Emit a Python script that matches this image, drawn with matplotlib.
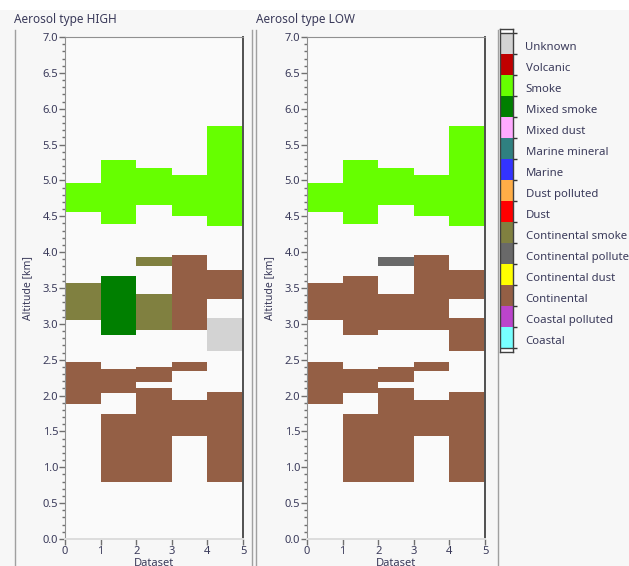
import matplotlib
matplotlib.use("Agg")
import matplotlib.pyplot as plt
from matplotlib.lines import Line2D
from matplotlib.patches import Rectangle
from matplotlib.ticker import MultipleLocator

plt.rcParams['font.family'] = ['Noto Sans', 'DejaVu Sans']

# ---- categories (top to bottom in the legend) ----
categories = ["Unknown", "Volcanic", "Smoke", "Mixed smoke", "Mixed dust",
              "Marine mineral", "Marine", "Dust polluted", "Dust",
              "Continental smoke", "Continental polluted", "Continental dust",
              "Continental", "Coastal polluted", "Coastal"]
cat_colors = ["#d3d3d3", "#c00000", "#66ff00", "#007f00", "#ffaaff",
              "#2f8080", "#3333ff", "#ffad47", "#ff0000",
              "#808040", "#696969", "#ffff00",
              "#945f45", "#bb44cc", "#77ffff"]

# ---- layers: dataset index, base altitude, top altitude (km) ----
layer_x    = [0, 1, 2, 3, 4,
              0, 1, 2, 2, 3, 4, 4,
              0, 1, 1, 2, 2, 3, 3, 4]
layer_base = [4.56, 4.39, 4.66, 4.51, 4.36,
              3.05, 2.85, 2.91, 3.81, 2.91, 3.34, 2.62,
              1.88, 2.03, 0.80, 2.19, 0.80, 2.34, 1.43, 0.80]
layer_top  = [4.97, 5.28, 5.18, 5.08, 5.76,
              3.57, 3.67, 3.41, 3.93, 3.96, 3.75, 3.08,
              2.47, 2.37, 1.75, 2.40, 2.10, 2.47, 1.94, 2.05]
high_type = ["Smoke"] * 5 + [
    "Continental smoke", "Mixed smoke", "Continental smoke", "Continental smoke",
    "Continental", "Continental", "Unknown"] + ["Continental"] * 8
low_type = ["Smoke"] * 5 + [
    "Continental", "Continental", "Continental", "Continental polluted",
    "Continental", "Continental", "Continental"] + ["Continental"] * 8

panel_titles = ["Aerosol type HIGH", "Aerosol type LOW"]
x_ticks = [0, 1, 2, 3, 4, 5]

W, H = 629, 566
fig = plt.figure(figsize=(W / 100, H / 100), dpi=100)
fig.patch.set_facecolor("white")

# background panel
fig.add_artist(Rectangle((0, 0), 1, (H - 10) / H, transform=fig.transFigure,
                         facecolor="#f7f7f7", edgecolor="none", zorder=-10))
# panel box lines
for xp in [15, 252, 256, 498]:
    fig.add_artist(Line2D([xp / W, xp / W], [0, (H - 30) / H],
                          transform=fig.transFigure, color="#a0a0a0", lw=1.0))

txt_color = "#3a3a5a"
cmap = dict(zip(categories, cat_colors))

def px_axes(x0, x1, y0, y1):
    return [x0 / W, (H - y1) / H, (x1 - x0) / W, (y1 - y0) / H]

for i, (types, title) in enumerate(zip([high_type, low_type], panel_titles)):
    x0 = 65 if i == 0 else 307
    ax = fig.add_axes(px_axes(x0, x0 + 178, 37, 539))
    ax.set_facecolor("#fafafa")
    ax.bar(layer_x, [t - b for t, b in zip(layer_top, layer_base)],
           bottom=layer_base, width=1.0, align="edge",
           color=[cmap[t] for t in types], edgecolor="none", zorder=2)
    ax.set_xlim(0, 5)
    ax.set_ylim(0, 7)
    ax.set_xticks(x_ticks)
    ax.yaxis.set_major_locator(MultipleLocator(0.5))
    ax.yaxis.set_minor_locator(MultipleLocator(0.1))
    ax.yaxis.set_major_formatter(matplotlib.ticker.FormatStrFormatter("%.1f"))
    ax.tick_params(axis="both", which="major", labelsize=8, colors="#707070",
                   labelcolor=txt_color, length=4, width=1, pad=1)
    ax.tick_params(axis="y", which="minor", length=2, width=1, colors="#707070")
    ax.spines["left"].set_color("#909090")
    ax.spines["top"].set_color("#909090")
    ax.spines["right"].set_color("#505050")
    ax.spines["right"].set_linewidth(1.4)
    ax.spines["bottom"].set_color("#dddddd")
    ax.spines["bottom"].set_linewidth(1.4)
    ax.set_ylabel("Altitude [km]", fontsize=7.5, color=txt_color)
    ax.yaxis.set_label_coords(-0.18, 0.5)
    ax.set_xlabel("Dataset", fontsize=8, color=txt_color, va="top")
    ax.xaxis.set_label_coords(0.5, -0.038)
    fig.text((x0 - 51) / W, (H - 20) / H, title, fontsize=8.5, color=txt_color,
             va="center", ha="left")

# legend colour bar
n = len(categories)
cax = fig.add_axes(px_axes(500, 513, 29, 352))
cax.set_facecolor("white")
cax.barh([n - 1 - k for k in range(n)], [1] * n, height=1.0, left=0,
         align="edge", color=cat_colors, edgecolor="none")
cax.set_xlim(0, 1)
cax.set_ylim(-0.19, n + 0.19)
cax.set_xticks([])
cax.set_yticks([k + 0.4 for k in range(n)])
cax.set_yticklabels(categories[::-1])
cax.set_yticks(list(range(n + 1)), minor=True)
cax.yaxis.tick_right()
cax.yaxis.set_ticks_position("right")
cax.tick_params(axis="y", which="major", length=0, pad=9, labelsize=8.2,
                labelcolor=txt_color)
cax.tick_params(axis="y", which="minor", length=3, width=1, colors="#333333",
                right=True, left=False)
for s in cax.spines.values():
    s.set_color("#404040")
    s.set_linewidth(1.0)
cax.axhline(n, color="#404040", lw=1.0)
cax.axhline(0, color="#404040", lw=1.0)

fig.savefig("out.png", dpi=100)
